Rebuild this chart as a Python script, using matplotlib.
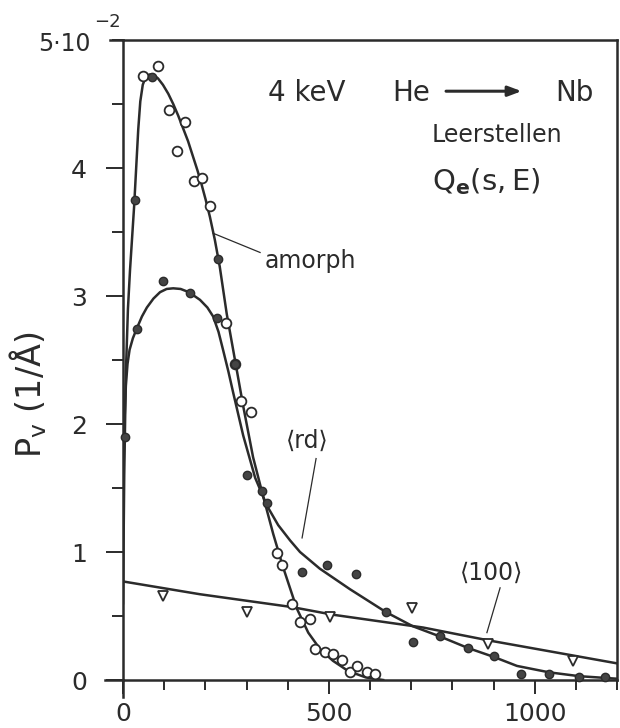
import matplotlib
matplotlib.use("Agg")
import matplotlib.pyplot as plt
import numpy as np

plt.rcParams["font.family"] = ["DejaVu Sans"]
plt.rcParams["mathtext.fontset"] = "dejavusans"

INK = "#2b2b2b"

# measured points, y in units of 1e-2 1/A
amorph_x = [48, 85, 112, 131, 150, 172, 192, 211, 250, 272, 286, 311, 374, 386,
            410, 430, 454, 466, 491, 510, 531, 551, 569, 592, 612]
amorph_y = [4.72, 4.80, 4.45, 4.13, 4.36, 3.90, 3.92, 3.70, 2.79, 2.47, 2.18, 2.09,
            0.99, 0.90, 0.59, 0.45, 0.48, 0.24, 0.22, 0.20, 0.16, 0.06, 0.11, 0.06, 0.05]

rd_x = [5, 29, 34, 70, 97, 163, 228, 231, 272, 301, 337, 350, 435, 495, 566, 639,
        704, 770, 838, 901, 967, 1035, 1108, 1171]
rd_y = [1.90, 3.75, 2.74, 4.71, 3.12, 3.02, 2.83, 3.29, 2.47, 1.60, 1.48, 1.38, 0.84,
        0.90, 0.83, 0.53, 0.30, 0.34, 0.25, 0.19, 0.05, 0.05, 0.02, 0.02]

c100_x = [97, 301, 503, 702, 887, 1093]
c100_y = [0.66, 0.53, 0.49, 0.56, 0.28, 0.15]

# drawn curves
amorph_curve_x = [0, 3, 7, 12, 17, 22, 27, 32, 37, 42, 48, 55, 64, 73, 85, 97, 110,
                  122, 134, 146, 158, 170, 181, 191, 201, 211, 223, 235, 252, 272,
                  292, 316, 340, 365, 389, 422, 450, 479, 510, 547, 590, 632]
amorph_curve_y = [0.6, 1.6, 2.4, 2.9, 3.2, 3.45, 3.7, 4.0, 4.3, 4.52, 4.65, 4.71,
                  4.73, 4.73, 4.70, 4.65, 4.58, 4.50, 4.41, 4.31, 4.21, 4.09, 3.98,
                  3.87, 3.75, 3.62, 3.44, 3.23, 2.86, 2.50, 2.14, 1.74, 1.44, 1.14,
                  0.88, 0.56, 0.37, 0.24, 0.15, 0.07, 0.02, 0.0]

rd_curve_x = [0, 2, 4, 7, 11, 16, 24, 34, 46, 58, 74, 90, 106, 122, 140, 160, 187,
              205, 219, 232, 243, 256, 268, 292, 321, 350, 377, 406, 430, 478, 551,
              639, 704, 770, 838, 901, 957, 1035, 1108, 1200]
rd_curve_y = [1.3, 1.75, 2.05, 2.3, 2.47, 2.58, 2.67, 2.75, 2.84, 2.91, 2.98, 3.03,
              3.055, 3.06, 3.055, 3.03, 2.97, 2.91, 2.84, 2.72, 2.58, 2.41, 2.24,
              1.91, 1.58, 1.36, 1.21, 1.09, 1.00, 0.87, 0.71, 0.53, 0.42, 0.34,
              0.25, 0.18, 0.11, 0.06, 0.03, 0.01]

c100_curve_x = [0, 187, 410, 510, 729, 887, 1200]
c100_curve_y = [0.77, 0.67, 0.57, 0.51, 0.41, 0.31, 0.13]

ytick_vals = [0, 1, 2, 3, 4]
ytick_labels = ["0", "1", "2", "3", "4"]
xtick_vals = [0, 500, 1000]
xtick_labels = ["0", "500", "1000"]

fig = plt.figure(figsize=(6.2, 7.28), dpi=100)
ax = fig.add_axes([123 / 620, 48 / 728, 494 / 620, 640 / 728])
ax.set_xlim(0, 1200)
ax.set_ylim(0, 5)

for s in ax.spines.values():
    s.set_linewidth(1.8)
    s.set_color(INK)

ax.set_yticks(ytick_vals)
ax.set_yticklabels(ytick_labels)
ax.yaxis.set_minor_locator(plt.MultipleLocator(0.5))
ax.set_xticks(xtick_vals)
ax.set_xticklabels(xtick_labels)
ax.xaxis.set_minor_locator(plt.MultipleLocator(100))

ax.tick_params(axis="y", which="major", length=12, width=1.4, pad=14,
               labelsize=18, colors=INK)
ax.tick_params(axis="y", which="minor", length=8, width=1.4, colors=INK)
ax.tick_params(axis="x", which="major", length=10, width=1.4, pad=6,
               labelsize=18, colors=INK)
ax.tick_params(axis="x", which="minor", length=7, width=1.4, colors=INK)

# axis lines run a little past the corner
ax.plot([-32, 0], [5, 5], color=INK, lw=1.8, clip_on=False)
ax.plot([-44, 0], [0, 0], color=INK, lw=1.8, clip_on=False)
ax.plot([0, 0], [0, -0.13], color=INK, lw=1.8, clip_on=False)
ax.text(-78, 4.97, "5\u00b710", fontsize=17, ha="right", va="center", color=INK)
ax.text(-71, 5.14, "\u22122", fontsize=13, ha="left", va="center", color=INK)

ax.plot(amorph_curve_x, amorph_curve_y, color=INK, lw=1.8, zorder=3)
ax.plot(rd_curve_x, rd_curve_y, color=INK, lw=1.8, zorder=3)
ax.plot(c100_curve_x, c100_curve_y, color=INK, lw=1.8, zorder=3)

ax.plot(amorph_x, amorph_y, "o", ms=7, mfc="white", mec=INK, mew=1.3,
        zorder=4, clip_on=False)
ax.plot(rd_x, rd_y, "o", ms=6, mfc="#444444", mec=INK, mew=1.0,
        zorder=5, clip_on=False)
ax.plot(c100_x, c100_y, "v", ms=7, mfc="white", mec=INK, mew=1.3,
        zorder=4, clip_on=False)

# labels with leader lines
ax.plot([219, 333], [3.49, 3.34], color=INK, lw=0.9)
ax.text(345, 3.22, "amorph", fontsize=17, color=INK, va="baseline")
ax.plot([469, 435], [1.73, 1.11], color=INK, lw=0.9)
ax.text(447, 1.87, "\u27e8rd\u27e9", fontsize=17, color=INK, ha="center",
        va="center")
ax.plot([916, 884], [0.72, 0.37], color=INK, lw=0.9)
ax.text(896, 0.84, "\u27e8100\u27e9", fontsize=17, color=INK, ha="center",
        va="center")

# title block
ax.text(352, 4.52, "4 keV", fontsize=20, color=INK, va="baseline")
ax.text(653, 4.52, "He", fontsize=20, color=INK, va="baseline")
ax.text(1049, 4.52, "Nb", fontsize=20, color=INK, va="baseline")
ax.annotate("", xy=(975, 4.60), xytext=(778, 4.60),
            arrowprops=dict(arrowstyle="-|>,head_length=0.8,head_width=0.3",
                            color=INK, lw=2.2))
ax.text(750, 4.20, "Leerstellen", fontsize=17, color=INK, va="baseline")
ax.text(750, 3.83, r"$\mathrm{Q_{\mathbf{e}}(s,E)}$", fontsize=21, color=INK,
        va="baseline")

fig.text(28 / 620, 1 - 395 / 728, r"$\mathrm{P_v}$ (1/Å)", fontsize=24,
         rotation=90, ha="center", va="center", color=INK)

fig.savefig("out.png", dpi=100)
